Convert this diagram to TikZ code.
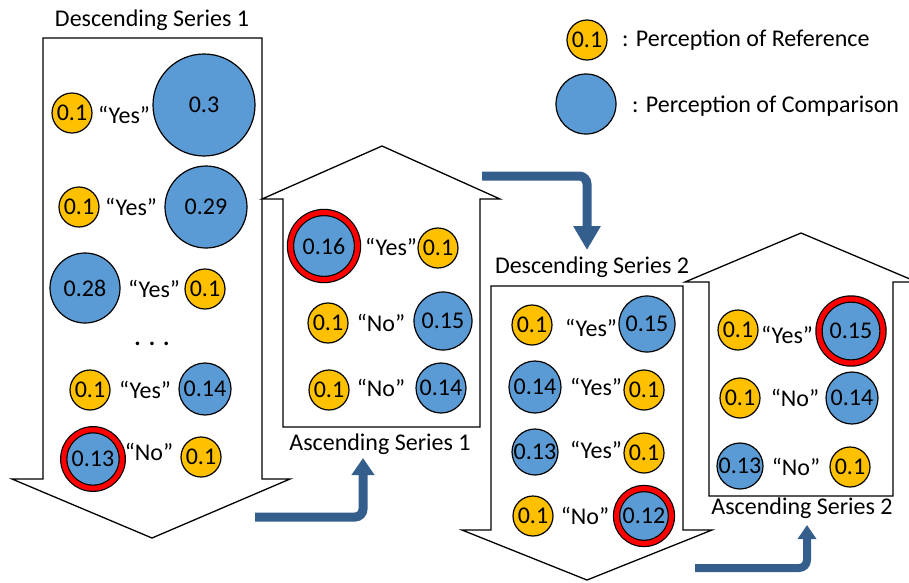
\documentclass[tikz,border=0pt]{standalone}
\usepackage{fontspec}
\setmainfont{Carlito}
\usetikzlibrary{arrows.meta}

\definecolor{refgold}{RGB}{255,192,0}
\definecolor{compblue}{RGB}{91,155,213}
\definecolor{flowblue}{RGB}{52,94,140}

\begin{document}
\begin{tikzpicture}[x=1pt, y=-1pt,
    font=\fontsize{24}{28}\selectfont,
    series/.style={draw, fill=white, line width=1.3pt, line join=miter},
    ref/.style={circle, draw, fill=refgold, line width=1.2pt, inner sep=0pt, minimum size=40pt, label=center:0.1},
    comp/.style={circle, draw, fill=compblue, line width=1.2pt, inner sep=0pt, minimum size=#1},
    chosen/.style={double=red, double distance=5pt},
    answer/.style={inner sep=0pt},
    flow/.style={line width=9pt, flowblue, rounded corners=8pt, -{Triangle[width=22pt, length=17pt]}}]

    \useasboundingbox (0,0) rectangle (909,582);

    \draw[series] (43,38) -- (262,38) -- (262,479) -- (290,479) -- (152,538) -- (12,479) -- (43,479) -- cycle;
    \draw[series] (283,427) -- (283,199) -- (262,199) -- (382,146) -- (500,199) -- (480,199) -- (480,427) -- cycle;
    \draw[series] (491,286) -- (683,286) -- (683,530) -- (712,530) -- (587,580) -- (462,530) -- (491,530) -- cycle;
    \draw[series] (709,496) -- (709,282) -- (685,282) -- (801,233) -- (917,282) -- (893,282) -- (893,496) -- cycle;

    \node (t1) at (152,20) {Descending Series 1};
    \node (t2) at (380,444) {Ascending Series 1};
    \node (t3) at (592,267) {Descending Series 2};
    \node (t4) at (802,508) {Ascending Series 2};

    \node[ref] (d1r1) at (72,113) {};
    \node[answer] (d1a1) at (124,115) {“Yes”};
    \node[comp=102pt, label=center:0.3] (d1c1) at (204,105) {};
    \node[ref] (d1r2) at (79,207) {};
    \node[answer] (d1a2) at (131,207) {“Yes”};
    \node[comp=82pt, label=center:0.29] (d1c2) at (206,207) {};
    \node[comp=70pt, label=center:0.28] (d1c3) at (85,288) {};
    \node[answer] (d1a3) at (154,289) {“Yes”};
    \node[ref] (d1r3) at (205,289) {};
    \node (d1dots) at (152,344) {\textbf{.\,\,.\,\,.}};
    \node[ref] (d1r4) at (90,390) {};
    \node[answer] (d1a4) at (145,390) {“Yes”};
    \node[comp=52pt, label=center:0.14] (d1c4) at (205,389) {};
    \node[comp=58.5pt, chosen, label=center:0.13] (d1c5) at (93,459) {};
    \node[answer] (d1a5) at (149,452) {“No”};
    \node[ref] (d1r5) at (201,457) {};

    \node[comp=67pt, chosen, label=center:0.16] (a1c1) at (324,246) {};
    \node[answer] (a1a1) at (391,247) {“Yes”};
    \node[ref] (a1r1) at (438,248) {};
    \node[ref] (a1r2) at (328,323) {};
    \node[answer] (a1a2) at (381,323) {“No”};
    \node[comp=58pt, label=center:0.15] (a1c2) at (443,321) {};
    \node[ref] (a1r3) at (329,390) {};
    \node[answer] (a1a3) at (381,388) {“No”};
    \node[comp=50pt, label=center:0.14] (a1c3) at (441,388) {};

    \node[ref] (d2r1) at (532,325) {};
    \node[answer] (d2a1) at (591,328) {“Yes”};
    \node[comp=56pt, label=center:0.15] (d2c1) at (647,324) {};
    \node[comp=52pt, label=center:0.14] (d2c2) at (535,387) {};
    \node[answer] (d2a2) at (596,387) {“Yes”};
    \node[ref] (d2r2) at (644,390) {};
    \node[comp=46pt, label=center:0.13] (d2c3) at (535,452) {};
    \node[answer] (d2a3) at (596,450) {“Yes”};
    \node[ref] (d2r3) at (644,453) {};
    \node[ref] (d2r4) at (533,516) {};
    \node[answer] (d2a4) at (585,516) {“No”};
    \node[comp=55pt, chosen, label=center:0.12] (d2c4) at (644,516) {};

    \node[ref] (a2r1) at (738,330) {};
    \node[answer] (a2a1) at (787,335) {“Yes”};
    \node[comp=64pt, chosen, label=center:0.15] (a2c1) at (851,331) {};
    \node[ref] (a2r2) at (740,398) {};
    \node[answer] (a2a2) at (795,398) {“No”};
    \node[comp=52pt, label=center:0.14] (a2c2) at (852,398) {};
    \node[comp=46pt, label=center:0.13] (a2c3) at (740,466) {};
    \node[answer] (a2a3) at (796,467) {“No”};
    \node[ref] (a2r3) at (850,467) {};

    \node[ref] (lref) at (587,40) {};
    \node[answer, anchor=west] (lreftext) at (622,40) {: Perception of Reference};
    \node[comp=60pt] (lcomp) at (586,104) {};
    \node[answer, anchor=west] (lcomptext) at (632,106) {: Perception of Comparison};

    \coordinate (d1out) at (255,517);
    \coordinate (a1in) at (363,458);
    \draw[flow] (d1out) -| (a1in);

    \coordinate (a1out) at (482,176);
    \coordinate (d2in) at (587,250);
    \draw[flow, -{Triangle[width=26pt, length=24pt]}] (a1out) -| (d2in);

    \coordinate (d2out) at (695,568);
    \coordinate (a2in) at (807,525);
    \draw[flow, line width=8pt, -{Triangle[width=18pt, length=14pt]}] (d2out) -| (a2in);

\end{tikzpicture}
\end{document}
